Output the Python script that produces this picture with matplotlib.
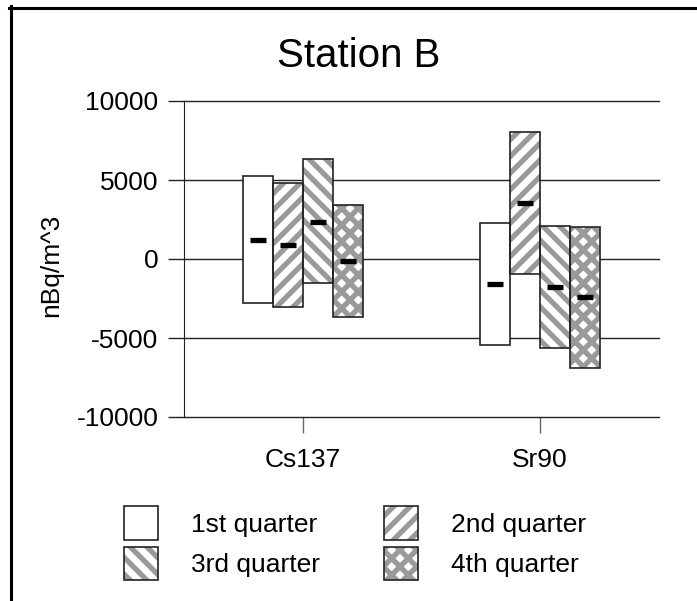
import numpy as np
import matplotlib
matplotlib.use('Agg')
import matplotlib.pyplot as plt
from matplotlib.lines import Line2D

plt.rcParams['font.family'] = ['Liberation Sans', 'DejaVu Sans']
plt.rcParams['hatch.linewidth'] = 3.8
plt.rcParams['axes.unicode_minus'] = False

isotopes = ['Cs137', 'Sr90']
quarters = ['1st quarter', '2nd quarter', '3rd quarter', '4th quarter']
hatches = ['', '//', '\\\\', 'xx']

# low / high / mean for each quarter, one value per isotope
low_q1 = [-2770, -5440]
high_q1 = [5250, 2260]
mean_q1 = [1200, -1580]

low_q2 = [-3060, -950]
high_q2 = [4830, 8060]
mean_q2 = [890, 3560]

low_q3 = [-1540, -5650]
high_q3 = [6360, 2090]
mean_q3 = [2340, -1750]

low_q4 = [-3690, -6920]
high_q4 = [3400, 2040]
mean_q4 = [-100, -2390]

lows = [low_q1, low_q2, low_q3, low_q4]
highs = [high_q1, high_q2, high_q3, high_q4]
means = [mean_q1, mean_q2, mean_q3, mean_q4]

fig = plt.figure(figsize=(6.97, 6.01), dpi=100)
ax = fig.add_axes([184/697, 1-417/601, 474.5/697, 316/601])

x = np.arange(len(isotopes))
width = 0.1266
offsets = [-1.5, -0.5, 0.5, 1.5]
handles = []
for i in range(4):
    lo = np.array(lows[i])
    hi = np.array(highs[i])
    xs = x + offsets[i] * width
    b1 = ax.bar(xs, hi - lo, width, bottom=lo, color='white', hatch=hatches[i],
                edgecolor='#9a9a9a', linewidth=0, zorder=2)
    b2 = ax.bar(xs, hi - lo, width, bottom=lo, fill=False,
                edgecolor='#222222', linewidth=1.2, zorder=3)
    ax.plot(xs, means[i], linestyle='none', marker='_', ms=11, mew=3.8,
            color='black', zorder=4)
    handles.append((b1[0], b2[0]))

ax.set_xlim(-0.5, 1.5)
ax.set_ylim(-10000, 10000)
ax.set_yticks([-10000, -5000, 0, 5000, 10000])
ax.set_xticks(x)
ax.set_xticklabels(isotopes)
ax.set_axisbelow(True)
ax.yaxis.grid(True, color='#222222', linewidth=1)
for gl in ax.get_ygridlines():
    gl.set_clip_on(False)
for s in ['top', 'right', 'bottom']:
    ax.spines[s].set_visible(False)
ax.spines['left'].set_color('#222222')
ax.tick_params(axis='y', length=11.5, width=1, color='#222222', pad=7, labelsize=19)
ax.tick_params(axis='x', length=11.5, width=1, color='#666666', pad=11, labelsize=19)

ax.set_ylabel('nBq/m^3', fontsize=19)
ax.yaxis.set_label_coords((63-184)/474.5, (417-265)/316)

fig.text(359/697, 1-67/601, 'Station B', ha='center', va='baseline', fontsize=29)

order = [0, 2, 1, 3]
fig.legend([handles[k] for k in order], [quarters[k] for k in order],
           ncol=2, loc='upper left', bbox_to_anchor=(124/697, 1-506/601),
           bbox_transform=fig.transFigure, frameon=False, fontsize=19,
           borderpad=0, borderaxespad=0, handlelength=1.29, handleheight=1.6,
           handletextpad=1.25, columnspacing=2.42, labelspacing=0.25)

# frame around the figure (only top and left edges show)
fig.add_artist(Line2D([9/697, 1], [1-7.5/601, 1-7.5/601], transform=fig.transFigure,
                      color='black', linewidth=2.2))
fig.add_artist(Line2D([11/697, 11/697], [0, 1-6/601], transform=fig.transFigure,
                      color='black', linewidth=2.2))

fig.savefig('out.png', dpi=100)
